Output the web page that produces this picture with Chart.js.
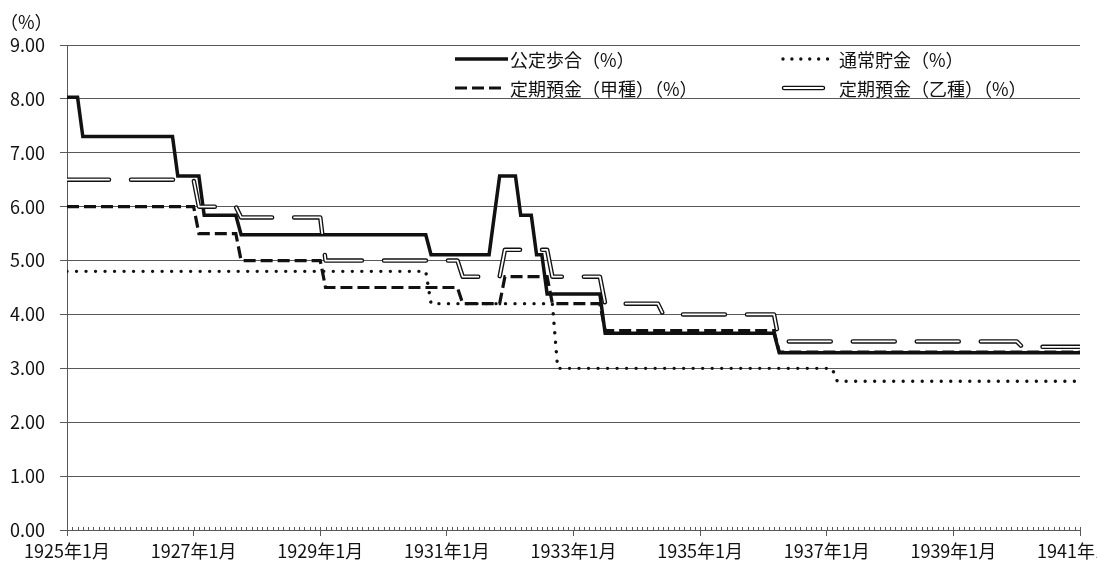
<!DOCTYPE html>
<html lang="ja">
<head>
<meta charset="utf-8">
<title>公定歩合と預金金利</title>
<script src="https://cdn.jsdelivr.net/npm/chart.js@4/dist/chart.umd.min.js"></script>
<style>
  body { margin: 0; background: #fff; }
  #wrap { position: relative; width: 1097px; height: 565px; font-family: "Noto Sans CJK JP", "Noto Sans", sans-serif; color: #111; }
  #chart { position: absolute; left: 0; top: 0; }
  #unit { position: absolute; left: 0px; top: 8px; font-size: 18px; }
  .item { position: absolute; height: 24px; line-height: 24px; font-size: 18px; white-space: nowrap; }
  .item svg { position: absolute; top: 7px; }
  .item span { position: absolute; }
</style>
</head>
<body>
<div id="wrap">
  <canvas id="chart" width="1097" height="565"></canvas>
  <div id="unit">（%）</div>
  <div id="legend"></div>
</div>
<script>
// Rates change month by month; each series is stored as the month index
// (0 = 1925年1月) where a new rate takes effect, plus that rate.
const lastMonth = 192;

const discountStart = [0, 3, 21, 26, 33, 69, 81, 82, 86, 89, 91, 102, 135];
const discountRate  = [8.03, 7.30, 6.57, 5.84, 5.48, 5.11, 5.84, 6.57, 5.84, 5.11, 4.38, 3.65, 3.29];

const ordinaryStart = [0, 69, 93, 146];
const ordinaryRate  = [4.80, 4.20, 3.00, 2.76];

const fixedAStart = [0, 25, 33, 49, 75, 83, 92, 102, 135];
const fixedARate  = [6.0, 5.5, 5.0, 4.5, 4.2, 4.7, 4.2, 3.7, 3.3];

const fixedBStart = [0, 25, 33, 49, 75, 83, 92, 102, 113, 135, 181];
const fixedBRate  = [6.5, 6.0, 5.8, 5.0, 4.7, 5.2, 4.7, 4.2, 4.0, 3.5, 3.4];

const xTickLabels = ['1925年1月', '1927年1月', '1929年1月', '1931年1月', '1933年1月',
                     '1935年1月', '1937年1月', '1939年1月', '1941年1月'];

const seriesNames = ['公定歩合（%）', '通常貯金（%）', '定期預金（甲種）（%）', '定期預金（乙種）（%）'];

const ink = '#111';
const axisGray = '#595959';
const tickFont = { family: '"Noto Sans CJK JP", sans-serif', size: 18 };

// vertices of the stepped line: start and end month of every rate period
function stepPoints(starts, rates) {
  const pts = [];
  starts.forEach((s, i) => {
    const end = i + 1 < starts.length ? starts[i + 1] - 1 : lastMonth;
    pts.push({ x: s, y: rates[i] });
    if (end > s) pts.push({ x: end, y: rates[i] });
  });
  return pts;
}

const base = { pointRadius: 0, tension: 0, fill: false };

// small month ticks sitting on top of the x axis
const monthTicks = {
  id: 'monthTicks',
  beforeDatasetsDraw(chart) {
    const xs = chart.scales.x;
    const ctx = chart.ctx;
    const y = chart.chartArea.bottom;
    ctx.save();
    ctx.strokeStyle = axisGray;
    ctx.lineWidth = 1;
    ctx.beginPath();
    for (let m = 0; m <= lastMonth; m++) {
      const px = Math.round(xs.getPixelForValue(m)) + 0.5;
      ctx.moveTo(px, y - 3);
      ctx.lineTo(px, y);
    }
    ctx.stroke();
    ctx.restore();
  }
};

new Chart(document.getElementById('chart'), {
  type: 'line',
  data: {
    datasets: [
      { ...base, label: seriesNames[0], data: stepPoints(discountStart, discountRate),
        borderColor: ink, borderWidth: 3.5, order: 4 },
      { ...base, label: seriesNames[1], data: stepPoints(ordinaryStart, ordinaryRate),
        borderColor: ink, borderWidth: 3.4, borderDash: [0.01, 9.5], borderCapStyle: 'round',
        borderJoinStyle: 'round', order: 3 },
      { ...base, label: seriesNames[2], data: stepPoints(fixedAStart, fixedARate),
        borderColor: ink, borderWidth: 3.2, borderDash: [12, 5], order: 2 },
      // double line: black outer stroke with a thin white core
      { ...base, label: seriesNames[3], data: stepPoints(fixedBStart, fixedBRate),
        borderColor: ink, borderWidth: 4.5, borderDash: [42, 22], borderCapStyle: 'round',
        borderJoinStyle: 'round', order: 1 },
      { ...base, label: seriesNames[3] + ' core', data: stepPoints(fixedBStart, fixedBRate),
        borderColor: '#fff', borderWidth: 1.8, borderDash: [42, 22], borderCapStyle: 'round',
        borderJoinStyle: 'round', order: 0 }
    ]
  },
  options: {
    responsive: false,
    animation: false,
    layout: { padding: { top: 45, right: 17, left: 0, bottom: 0 } },
    plugins: { legend: { display: false }, tooltip: { enabled: false } },
    scales: {
      x: {
        type: 'linear',
        min: 0,
        max: lastMonth,
        grid: { drawOnChartArea: false, drawTicks: true, tickLength: 6, color: axisGray },
        border: { color: axisGray },
        ticks: {
          stepSize: 24,
          autoSkip: false,
          maxRotation: 0,
          padding: 4,
          color: '#111',
          font: tickFont,
          callback: v => xTickLabels[v / 24]
        },
        afterFit(s) { s.height = 35; s.paddingLeft = 0; s.paddingRight = 0; }
      },
      y: {
        min: 0,
        max: 9,
        grid: { color: axisGray, tickLength: 7 },
        border: { color: axisGray },
        ticks: {
          stepSize: 1,
          padding: 15,
          color: '#111',
          font: tickFont,
          callback: v => v.toFixed(2)
        },
        afterFit(s) { s.width = 67; }
      }
    }
  },
  plugins: [monthTicks]
});

// legend: two columns laid over the top of the plot
const legendItems = [
  { name: seriesNames[0], x: 455, y: 47, len: 53, svg: '<line x1="0" y1="5" x2="53" y2="5" stroke="#111" stroke-width="3.5"/>' },
  { name: seriesNames[1], x: 781, y: 47, len: 56, svg: '<line x1="2" y1="5" x2="54" y2="5" stroke="#111" stroke-width="3.4" stroke-linecap="round" stroke-dasharray="0.01 8.9"/>' },
  { name: seriesNames[2], x: 455, y: 76, len: 53, svg: '<line x1="0" y1="5" x2="46" y2="5" stroke="#111" stroke-width="3.2" stroke-dasharray="12 5"/>' },
  { name: seriesNames[3], x: 781, y: 76, len: 56, svg: '<line x1="3" y1="5" x2="42" y2="5" stroke="#111" stroke-width="4.5" stroke-linecap="round"/><line x1="3" y1="5" x2="42" y2="5" stroke="#fff" stroke-width="1.8" stroke-linecap="round"/>' }
];

const legend = document.getElementById('legend');
legendItems.forEach(it => {
  const div = document.createElement('div');
  div.className = 'item';
  div.style.left = it.x + 'px';
  div.style.top = it.y + 'px';
  div.innerHTML = `<svg width="${it.len}" height="10">${it.svg}</svg><span style="left:${it.len + 2}px">${it.name}</span>`;
  legend.appendChild(div);
});
</script>
</body>
</html>
